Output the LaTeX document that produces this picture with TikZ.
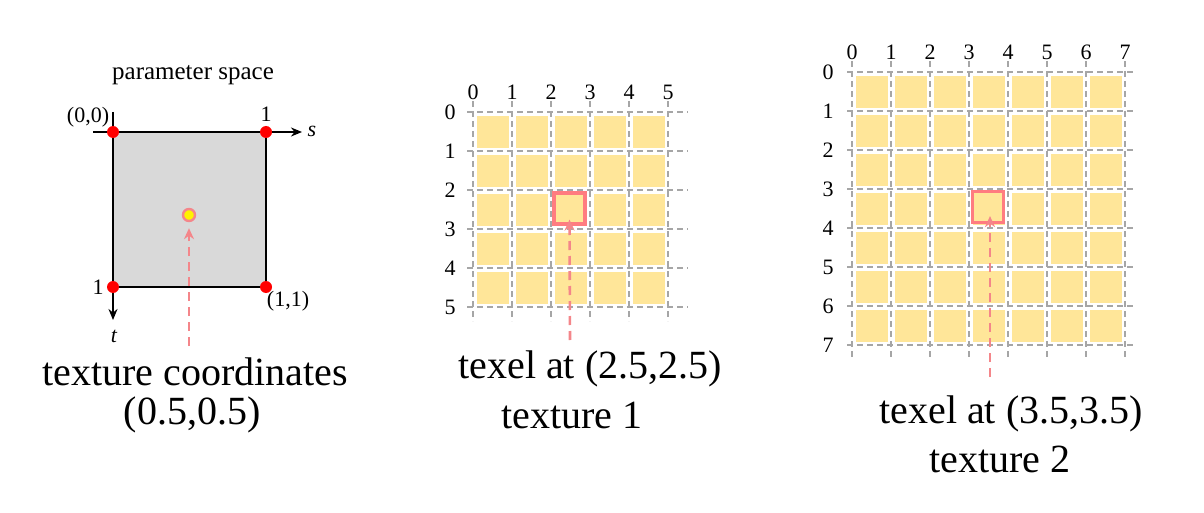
\documentclass[tikz,border=0pt]{standalone}
\usepackage{fontspec}
\setmainfont{Liberation Serif}
\usetikzlibrary{arrows.meta}
\definecolor{gridgray}{HTML}{A6A6A6}
\definecolor{texyellow}{HTML}{FFE699}
\definecolor{hipink}{HTML}{FF7C80}
\definecolor{arrowpink}{HTML}{F4868A}
\definecolor{squaregray}{HTML}{D9D9D9}
\definecolor{dotred}{HTML}{FF0000}
\begin{document}
\begin{tikzpicture}[x=1pt,y=-1pt,
  gridline/.style={draw=gridgray,line width=1.8pt,dash pattern=on 6pt off 4pt},
  texel/.style={fill=texyellow,draw=none},
  pinkarrow/.style={draw=arrowpink,line width=2.6pt,dash pattern=on 9pt off 6pt,-{Stealth[length=11pt,width=10pt]}},
  axis/.style={draw=black,line width=2.2pt,-{Stealth[length=11pt,width=9pt]}},
  corner/.style={circle,fill=dotred,inner sep=0pt,minimum size=12pt},
  digit/.style={font=\fontsize{22}{24}\selectfont,inner sep=0pt},
  small/.style={font=\fontsize{22}{24}\selectfont,inner sep=0pt},
  caption/.style={font=\fontsize{40}{44}\selectfont,inner sep=0pt,anchor=base}]
\useasboundingbox (0,0) rectangle (1204,513);

% ---------- left panel: parameter space ----------
\node[font=\fontsize{25}{28}\selectfont,inner sep=0pt] (title) at (193,75) {parameter space};
\fill[squaregray] (113,132) rectangle (266,287);
\draw[line width=2.2pt] (266,132) -- (266,287) -- (113,287);
\coordinate (sstart) at (93,132);
\coordinate (send) at (302,132);
\coordinate (tstart) at (113,112);
\coordinate (tend) at (113,320);
\draw[axis] (sstart) -- (send);
\draw[axis] (tstart) -- (tend);
\node[corner] (c00) at (113,132) {};
\node[corner] (c10) at (266,132) {};
\node[corner] (c01) at (113,287) {};
\node[corner] (c11) at (266,287) {};
\node[small] (l00) at (88,117) {(0,0)};
\node[small] (l10) at (266,114) {1};
\node[small] (l01) at (98,287) {1};
\node[small] (l11) at (288,301) {(1,1)};
\node[small,font=\fontsize{22}{24}\selectfont\itshape] (ls) at (312,131) {s};
\node[small,font=\fontsize{22}{24}\selectfont\itshape] (lt) at (114,336) {t};
\node[circle,fill=yellow,draw=arrowpink,line width=2.4pt,inner sep=0pt,minimum size=12pt] (pt) at (189,215) {};
\coordinate (a1) at (189,346);
\draw[pinkarrow] (a1) -- ([yshift=-6pt]pt.south);
\node[caption] (cap1) at (195,385) {texture coordinates};
\node[caption] (cap1b) at (192,424) {(0.5,0.5)};

% ---------- middle panel: texture 1 ----------
\foreach \i in {0,...,4}{
  \foreach \j in {0,...,4}{
    \fill[texel] (473+39*\i+4,112+39*\j+4) rectangle ++(32,32);
  }
}
\foreach \i in {0,...,5}{
  \draw[gridline] (473+39*\i,101) -- (473+39*\i,321);
  \draw[gridline] (467,112+39*\i) -- (688,112+39*\i);
  \node[digit] (mc\i) at (473+39*\i,92) {\i};
  \node[digit] (mr\i) at (450,112+39*\i) {\i};
}
\node[draw=hipink,line width=3.2pt,minimum size=31pt,inner sep=0pt] (h1) at (569.5,208.5) {};
\coordinate (a2) at (570,340);
\draw[pinkarrow] (a2) -- ([yshift=6pt]h1.south);
\node[caption] (cap2) at (590,378) {texel at (2.5,2.5)};
\node[caption] (cap2b) at (572,428) {texture 1};

% ---------- right panel: texture 2 ----------
\foreach \i in {0,...,6}{
  \foreach \j in {0,...,6}{
    \fill[texel] (852+39*\i+4,72+39*\j+4) rectangle ++(32,32);
  }
}
\foreach \i in {0,...,7}{
  \draw[gridline] (852+39*\i,61) -- (852+39*\i,359);
  \draw[gridline] (847,72+39*\i) -- (1134,72+39*\i);
  \node[digit] (rc\i) at (852+39*\i,52) {\i};
  \node[digit] (rr\i) at (828,72+39*\i) {\i};
}
\node[draw=hipink,line width=3.2pt,minimum size=31pt,inner sep=0pt] (h2) at (988,207) {};
\coordinate (a3) at (990,377);
\draw[pinkarrow] (a3) -- ([yshift=8pt]h2.south -| a3);
\node[caption] (cap3) at (1011,423) {texel at (3.5,3.5)};
\node[caption] (cap3b) at (1000,472) {texture 2};
\end{tikzpicture}
\end{document}
